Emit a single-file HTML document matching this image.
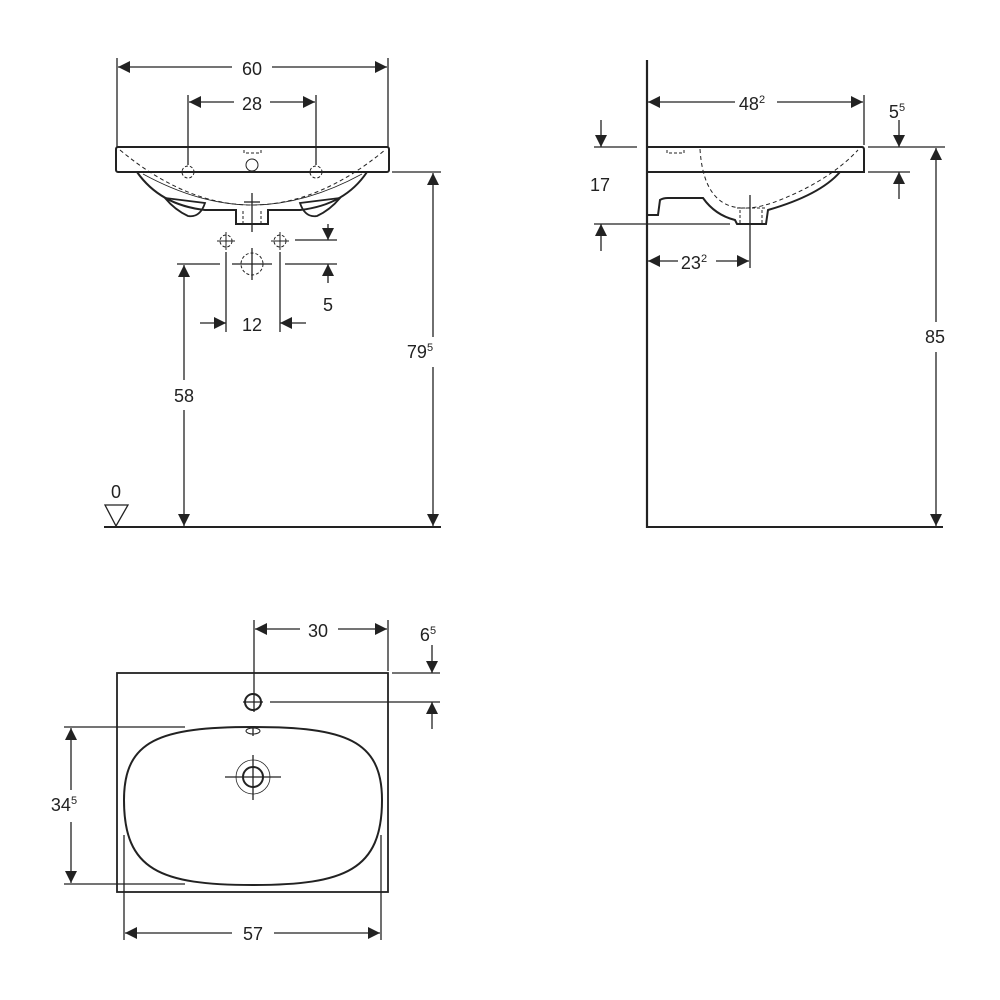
<!DOCTYPE html>
<html><head><style>html,body{margin:0;padding:0;background:#fff}svg{display:block}text{font-family:"Liberation Sans",sans-serif;font-size:18px;fill:#222}</style></head><body>
<svg width="1000" height="1000" viewBox="0 0 1000 1000">
<defs>
<marker id="a" viewBox="0 0 10 10" refX="10" refY="5" markerWidth="16" markerHeight="12" markerUnits="userSpaceOnUse" orient="auto-start-reverse"><path d="M0,0L10,5L0,10z" fill="#222"/></marker>
</defs>
<g stroke="#222" fill="none" stroke-width="1.3">
<!-- FRONT VIEW -->
<line x1="117" y1="58" x2="117" y2="147"/><line x1="388" y1="58" x2="388" y2="147"/>
<line x1="118" y1="67" x2="232" y2="67" marker-start="url(#a)"/><line x1="272" y1="67" x2="387" y2="67" marker-end="url(#a)"/>
<line x1="188" y1="95" x2="188" y2="165"/><line x1="316" y1="95" x2="316" y2="165"/>
<line x1="189" y1="102" x2="234" y2="102" marker-start="url(#a)"/><line x1="270" y1="102" x2="315" y2="102" marker-end="url(#a)"/>
<rect x="116" y="147" width="273" height="25" rx="2" stroke-width="2"/>
<path d="M120,150 Q252,260 385,150" stroke-dasharray="4,3" stroke-width="1"/>
<path d="M137,172 Q160,205 205,210 L236,210 L236,224 L268,224 L268,210 L300,210 Q345,205 367,172" stroke-width="2"/>
<path d="M165,198 L205,203 Q200,218 188,216 Q175,210 165,198Z" stroke-width="1.8"/>
<path d="M340,198 L300,203 Q305,218 317,216 Q330,210 340,198Z" stroke-width="1.8"/>
<path d="M143,174 Q200,205 252,205 Q305,205 362,174" stroke-width="0.8"/>
<rect x="244" y="147" width="17" height="6" stroke-dasharray="3,2" stroke-width="1"/>
<circle cx="252" cy="165" r="6" stroke-width="1"/>
<g stroke-dasharray="3,2" stroke-width="1"><circle cx="188" cy="172" r="6"/><circle cx="316" cy="172" r="6"/><line x1="243" y1="224" x2="243" y2="210"/><line x1="261" y1="224" x2="261" y2="210"/></g>
<line x1="180" y1="172" x2="196" y2="172"/><line x1="308" y1="172" x2="324" y2="172"/>
<line x1="252" y1="193" x2="252" y2="232"/><line x1="244" y1="202" x2="260" y2="202"/>
<g stroke-width="1"><circle cx="226" cy="241" r="6" stroke-dasharray="3,2"/><circle cx="280" cy="241" r="6" stroke-dasharray="3,2"/>
<line x1="217" y1="241" x2="235" y2="241"/><line x1="226" y1="232" x2="226" y2="250"/><line x1="271" y1="241" x2="289" y2="241"/><line x1="280" y1="232" x2="280" y2="250"/>
<circle cx="252" cy="264" r="11" stroke-dasharray="3,2"/></g>
<line x1="232" y1="264" x2="272" y2="264"/><line x1="252" y1="248" x2="252" y2="280"/>
<line x1="295" y1="240" x2="337" y2="240"/><line x1="328" y1="224" x2="328" y2="240" marker-end="url(#a)"/>
<line x1="285" y1="264" x2="337" y2="264"/><line x1="328" y1="283" x2="328" y2="264" marker-end="url(#a)"/>
<line x1="226" y1="252" x2="226" y2="332"/><line x1="280" y1="252" x2="280" y2="332"/>
<line x1="200" y1="323" x2="226" y2="323" marker-end="url(#a)"/><line x1="306" y1="323" x2="280" y2="323" marker-end="url(#a)"/>
<line x1="177" y1="264" x2="220" y2="264"/>
<line x1="184" y1="380" x2="184" y2="265" marker-end="url(#a)"/><line x1="184" y1="410" x2="184" y2="526" marker-end="url(#a)"/>
<line x1="392" y1="172" x2="441" y2="172"/>
<line x1="433" y1="337" x2="433" y2="173" marker-end="url(#a)"/><line x1="433" y1="367" x2="433" y2="526" marker-end="url(#a)"/>
<line x1="104" y1="527" x2="441" y2="527" stroke-width="2"/>
<path d="M105,505 L128,505 L116,526Z"/>
<!-- SIDE VIEW -->
<line x1="647" y1="60" x2="647" y2="528" stroke-width="2.2"/>
<line x1="646" y1="527" x2="943" y2="527" stroke-width="2"/>
<line x1="864" y1="95" x2="864" y2="145"/>
<line x1="648" y1="102" x2="735" y2="102" marker-start="url(#a)"/><line x1="777" y1="102" x2="863" y2="102" marker-end="url(#a)"/>
<path d="M647,147 L862,147 Q864,147 864,150 L864,172 L647,172" stroke-width="2"/>
<line x1="594" y1="147" x2="637" y2="147"/><line x1="868" y1="147" x2="945" y2="147"/>
<line x1="868" y1="172" x2="910" y2="172"/>
<line x1="899" y1="120" x2="899" y2="147" marker-end="url(#a)"/><line x1="899" y1="199" x2="899" y2="172" marker-end="url(#a)"/>
<line x1="601" y1="120" x2="601" y2="147" marker-end="url(#a)"/><line x1="601" y1="251" x2="601" y2="224" marker-end="url(#a)"/>
<line x1="594" y1="224" x2="730" y2="224"/>
<path d="M647,215 L658,215 L660,200 Q663,198 668,198 L703,198 Q715,215 735,220 L737,224 L766,224 L768,210 Q820,195 840,172" stroke-width="2"/>
<path d="M700,149 Q705,230 780,200 Q830,180 858,150" stroke-dasharray="4,3" stroke-width="1"/>
<rect x="667" y="147" width="17" height="6" stroke-dasharray="3,2" stroke-width="1"/>
<g stroke-dasharray="3,2" stroke-width="1"><line x1="740" y1="210" x2="740" y2="224"/><line x1="762" y1="210" x2="762" y2="224"/><line x1="737" y1="208" x2="765" y2="208"/></g>
<line x1="750" y1="195" x2="750" y2="268"/>
<line x1="648" y1="261" x2="678" y2="261" marker-start="url(#a)"/><line x1="716" y1="261" x2="749" y2="261" marker-end="url(#a)"/>
<line x1="936" y1="322" x2="936" y2="148" marker-end="url(#a)"/><line x1="936" y1="352" x2="936" y2="526" marker-end="url(#a)"/>
<!-- TOP VIEW -->
<rect x="117" y="673" width="271" height="219" stroke-width="1.8"/>
<line x1="254" y1="620" x2="254" y2="712"/><line x1="388" y1="620" x2="388" y2="671"/>
<line x1="255" y1="629" x2="300" y2="629" marker-start="url(#a)"/><line x1="338" y1="629" x2="387" y2="629" marker-end="url(#a)"/>
<line x1="392" y1="673" x2="440" y2="673"/><line x1="270" y1="702" x2="440" y2="702"/>
<line x1="432" y1="645" x2="432" y2="673" marker-end="url(#a)"/><line x1="432" y1="729" x2="432" y2="702" marker-end="url(#a)"/>
<circle cx="253" cy="702" r="8" stroke-width="2"/><line x1="243" y1="702" x2="263" y2="702"/>
<path d="M253,727 C345,727 382,740 382,800 C382,870 345,885 253,885 C160,885 124,870 124,800 C124,740 160,727 253,727Z" stroke-width="2"/>
<ellipse cx="253" cy="731" rx="7" ry="3" stroke-width="1"/><line x1="253" y1="726" x2="253" y2="736"/>
<circle cx="253" cy="777" r="10" stroke-width="2"/><circle cx="253" cy="777" r="17" stroke-width="0.8"/>
<line x1="225" y1="777" x2="281" y2="777"/><line x1="253" y1="755" x2="253" y2="800"/>
<line x1="64" y1="727" x2="185" y2="727"/><line x1="64" y1="884" x2="185" y2="884"/>
<line x1="71" y1="790" x2="71" y2="728" marker-end="url(#a)"/><line x1="71" y1="822" x2="71" y2="883" marker-end="url(#a)"/>
<line x1="124" y1="835" x2="124" y2="940"/><line x1="381" y1="835" x2="381" y2="940"/>
<line x1="125" y1="933" x2="232" y2="933" marker-start="url(#a)"/><line x1="274" y1="933" x2="380" y2="933" marker-end="url(#a)"/>
</g>
<text x="252" y="75" text-anchor="middle">60</text>
<text x="252" y="110" text-anchor="middle">28</text>
<text x="328" y="311" text-anchor="middle">5</text>
<text x="252" y="331" text-anchor="middle">12</text>
<text x="184" y="402" text-anchor="middle">58</text>
<text x="420" y="358" text-anchor="middle">79<tspan font-size="11" dy="-7">5</tspan></text>
<text x="116" y="498" text-anchor="middle">0</text>
<text x="752" y="110" text-anchor="middle">48<tspan font-size="11" dy="-7">2</tspan></text>
<text x="897" y="118" text-anchor="middle">5<tspan font-size="11" dy="-7">5</tspan></text>
<text x="600" y="191" text-anchor="middle">17</text>
<text x="694" y="269" text-anchor="middle">23<tspan font-size="11" dy="-7">2</tspan></text>
<text x="935" y="343" text-anchor="middle">85</text>
<text x="318" y="637" text-anchor="middle">30</text>
<text x="428" y="641" text-anchor="middle">6<tspan font-size="11" dy="-7">5</tspan></text>
<text x="64" y="811" text-anchor="middle">34<tspan font-size="11" dy="-7">5</tspan></text>
<text x="253" y="940" text-anchor="middle">57</text>
</svg>
</body></html>
